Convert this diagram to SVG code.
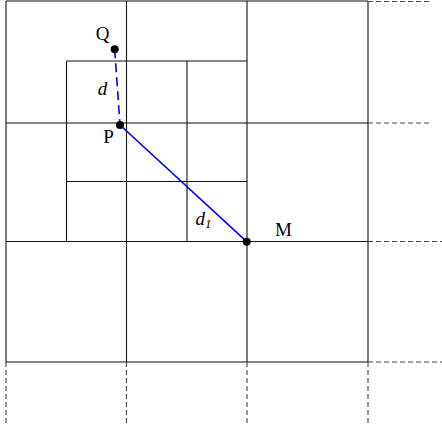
<svg xmlns="http://www.w3.org/2000/svg" width="442" height="430" viewBox="0 0 442 430">
<style>
.g{stroke:#111;stroke-width:1.1;fill:none}
.dsh{stroke:#444;stroke-width:1.1;fill:none;stroke-dasharray:5,3}
.blue{stroke:#0000ff;stroke-width:1.6;fill:none}
.lbl{font-family:"Liberation Serif","Times New Roman",serif;font-size:19px;fill:#000}
.it{font-style:italic}
.dot{fill:#000}
</style>
<rect width="442" height="430" fill="#fff"/>
<g id="grid">
<line class="g" x1="6" y1="1" x2="6" y2="362"/>
<line class="g" x1="126.5" y1="1" x2="126.5" y2="362"/>
<line class="g" x1="247" y1="1" x2="247" y2="362"/>
<line class="g" x1="368" y1="1" x2="368" y2="362"/>
<line class="g" x1="6" y1="1" x2="368" y2="1"/>
<line class="g" x1="6" y1="123" x2="368" y2="123"/>
<line class="g" x1="6" y1="241.5" x2="368" y2="241.5"/>
<line class="g" x1="6" y1="362" x2="368" y2="362"/>
<line class="g" x1="66.5" y1="61" x2="66.5" y2="241.5"/>
<line class="g" x1="187" y1="61" x2="187" y2="241.5"/>
<line class="g" x1="66.5" y1="61" x2="247" y2="61"/>
<line class="g" x1="66.5" y1="181.5" x2="247" y2="181.5"/>
</g>
<g id="extensions">
<line class="dsh" x1="368" y1="1.5" x2="432" y2="1.5"/>
<line class="dsh" x1="368" y1="123" x2="432" y2="123"/>
<line class="dsh" x1="368" y1="241.5" x2="442" y2="241.5"/>
<line class="dsh" x1="368" y1="362" x2="442" y2="362"/>
<line class="dsh" x1="6" y1="362" x2="6" y2="426"/>
<line class="dsh" x1="126.5" y1="362" x2="126.5" y2="426"/>
<line class="dsh" x1="247" y1="362" x2="247" y2="426"/>
<line class="dsh" x1="368" y1="362" x2="368" y2="426"/>
</g>
<g id="connectors">
<line class="blue" x1="114.7" y1="49.3" x2="120" y2="125" stroke-dasharray="9,5"/>
<line class="blue" x1="120" y1="125" x2="246.7" y2="241.7"/>
</g>
<g id="Q">
<circle class="dot" cx="114.7" cy="49.3" r="4"/>
<text class="lbl" x="102.5" y="40" text-anchor="middle">Q</text>
</g>
<g id="P">
<circle class="dot" cx="120" cy="125" r="4"/>
<text class="lbl" x="108.5" y="143" text-anchor="middle">P</text>
</g>
<g id="M">
<circle class="dot" cx="246.7" cy="241.7" r="4"/>
<text class="lbl" x="283.5" y="235.5" text-anchor="middle">M</text>
</g>
<g id="labels">
<text class="lbl it" x="102.5" y="95" text-anchor="middle">d</text>
<text class="lbl it" x="195.5" y="224.5">d<tspan font-size="13" dy="3">1</tspan></text>
</g>
</svg>
